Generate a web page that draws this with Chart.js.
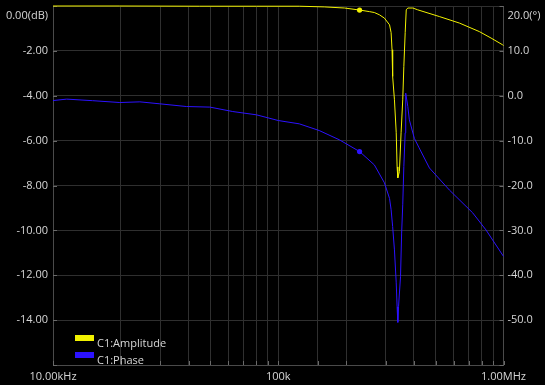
<!DOCTYPE html>
<html><head><meta charset="utf-8">
<script src="https://cdn.jsdelivr.net/npm/chart.js@4.4.1/dist/chart.umd.min.js"></script>
<style>html,body{margin:0;padding:0;background:#000;overflow:hidden}</style>
</head><body>
<canvas id="c" width="545" height="385"></canvas>
<script>
// ---- data ----
const ampFreq = [10000, 19800, 44800, 80000, 124000, 160000, 197000, 229600, 254000, 267000, 281000, 296000, 312000, 317000, 320000, 322000, 328000, 334000, 337000, 339500, 345000, 351000, 357000, 361000, 366000, 370000, 376000, 396000, 416000, 519000, 637000, 781000, 881000, 991000, 1000000];
const ampDb = [0.00, 0.00, -0.01, -0.01, -0.01, -0.04, -0.09, -0.18, -0.25, -0.29, -0.39, -0.54, -0.84, -1.19, -1.95, -3.14, -4.18, -5.65, -7.17, -7.66, -7.38, -5.65, -4.18, -2.70, -1.19, -0.17, -0.09, -0.09, -0.17, -0.47, -0.76, -1.14, -1.43, -1.73, -1.76];
const phaseFreq = [10000, 11500, 15000, 19800, 24300, 29800, 39100, 49700, 62800, 80000, 100000, 124000, 152000, 187000, 229600, 267000, 296000, 312000, 317000, 322000, 328000, 334000, 337000, 339500, 342000, 349000, 353000, 357000, 361000, 366000, 368000, 376000, 382000, 402000, 422000, 469000, 575000, 730000, 836000, 991000, 1000000];
const phaseDeg = [-1.07, -0.75, -1.10, -1.51, -1.36, -1.80, -2.40, -2.53, -3.52, -4.25, -5.52, -6.26, -7.75, -9.83, -12.43, -15.4, -19.4, -22.9, -25.4, -29.15, -34.35, -41.7, -47.0, -50.5, -47.0, -40.3, -30.6, -24.3, -15.8, -8.27, 0.58, -2.4, -5.37, -9.5, -11.6, -16.1, -21.0, -26.1, -29.9, -35.5, -35.8];
const cursorFreq = 229600;
const seriesNames = ['C1:Amplitude', 'C1:Phase'];
const seriesColors = ['#f2f200', '#2c12ff'];
const xTickText = {10000: '10.00kHz', 100000: '100k', 1000000: '1.00MHz'};
const dbTopLabel = '0.00(dB)';
const degTopLabel = '20.0(°)';

const FONT = "'Open Sans', 'Noto Sans', sans-serif";
const TXT = '#d6d6d6';
const GRID = '#2f2f2f';
const BORDER = '#4a4a4a';

function pts(xs, ys){ return xs.map((x,i)=>({x:x, y:ys[i]})); }
function cursorRadius(ctx){ const r = ctx.raw; return (r && r.x === cursorFreq) ? 2.6 : 0; }

const overlay = {
  id: 'overlay',
  beforeDraw(chart){
    const c = chart.ctx; c.save(); c.fillStyle = '#000'; c.fillRect(0,0,chart.width,chart.height); c.restore();
  },
  beforeDatasetsDraw(chart){
    const c = chart.ctx, a = chart.chartArea, s = chart.scales;
    c.save(); c.strokeStyle = '#6a6a6a'; c.lineWidth = 1; c.beginPath();
    s.y.ticks.forEach(t=>{ const y = Math.round(s.y.getPixelForValue(t.value))+0.5; c.moveTo(a.left, y); c.lineTo(a.left+4, y); });
    s.y2.ticks.forEach(t=>{ const y = Math.round(s.y2.getPixelForValue(t.value))+0.5; c.moveTo(a.right-4, y); c.lineTo(a.right, y); });
    s.x.ticks.forEach(t=>{ const x = Math.round(s.x.getPixelForValue(t.value))+0.5; c.moveTo(x, a.bottom-4); c.lineTo(x, a.bottom); });
    c.stroke(); c.restore();
  },
  afterDraw(chart){
    const c = chart.ctx, a = chart.chartArea;
    c.save();
    c.font = '11px ' + FONT; c.fillStyle = TXT; c.textBaseline = 'middle';
    c.textAlign = 'right'; c.fillText(dbTopLabel, a.left - 5, a.top + 9.5);
    c.textAlign = 'left'; c.fillText(degTopLabel, a.right + 4, a.top + 9.5);
    // legend
    const lx = 75, ly = [335, 352];
    seriesNames.forEach((n,i)=>{
      c.fillStyle = seriesColors[i]; c.fillRect(lx, ly[i], 19, 6);
      c.fillStyle = TXT; c.textAlign = 'left'; c.fillText(n, lx + 22, ly[i] + 8.5);
    });
    c.restore();
  }
};

new Chart(document.getElementById('c'), {
  type: 'line',
  data: {
    datasets: [
      { label: seriesNames[0], data: pts(ampFreq, ampDb), yAxisID: 'y', borderColor: seriesColors[0], backgroundColor: seriesColors[0], borderWidth: 1, pointRadius: cursorRadius, pointBorderWidth: 0, tension: 0, clip: 3 },
      { label: seriesNames[1], data: pts(phaseFreq, phaseDeg), yAxisID: 'y2', borderColor: seriesColors[1], backgroundColor: seriesColors[1], borderWidth: 1, pointRadius: cursorRadius, pointBorderWidth: 0, tension: 0, clip: 3 }
    ]
  },
  options: {
    responsive: false, animation: false, devicePixelRatio: 1,
    layout: { padding: { top: 6, left: 0, right: 0, bottom: 0 } },
    plugins: { legend: { display: false }, tooltip: { enabled: false } },
    events: [],
    scales: {
      x: {
        type: 'logarithmic', min: 10000, max: 1000000,
        grid: { color: GRID, drawTicks: false },
        border: { color: BORDER },
        ticks: { autoSkip: false, maxRotation: 0, padding: 5, color: TXT, font: { family: FONT, size: 11 },
          callback: (v) => { for (const k in xTickText) { if (Math.abs(v - k) < 1) return xTickText[k]; } return ''; } },
        afterFit: (s) => { s.height = 20; s.paddingLeft = 0; s.paddingRight = 0; }
      },
      y: {
        position: 'left', min: -16, max: 0,
        grid: { color: GRID, drawTicks: false },
        border: { color: BORDER },
        ticks: { stepSize: 2, padding: 5, color: TXT, font: { family: FONT, size: 11 },
          callback: (v) => (v === 0 || v === -16) ? '' : v.toFixed(2) },
        afterFit: (s) => { s.width = 53; s.paddingTop = 0; s.paddingBottom = 0; }
      },
      y2: {
        position: 'right', min: -60, max: 20,
        grid: { display: false, drawTicks: false },
        border: { color: BORDER },
        ticks: { stepSize: 10, padding: 4, color: TXT, font: { family: FONT, size: 11 },
          callback: (v) => (v === 20 || v === -60) ? '' : v.toFixed(1) },
        afterFit: (s) => { s.width = 41.5; s.paddingTop = 0; s.paddingBottom = 0; }
      }
    }
  },
  plugins: [overlay]
});
</script>
</body></html>
